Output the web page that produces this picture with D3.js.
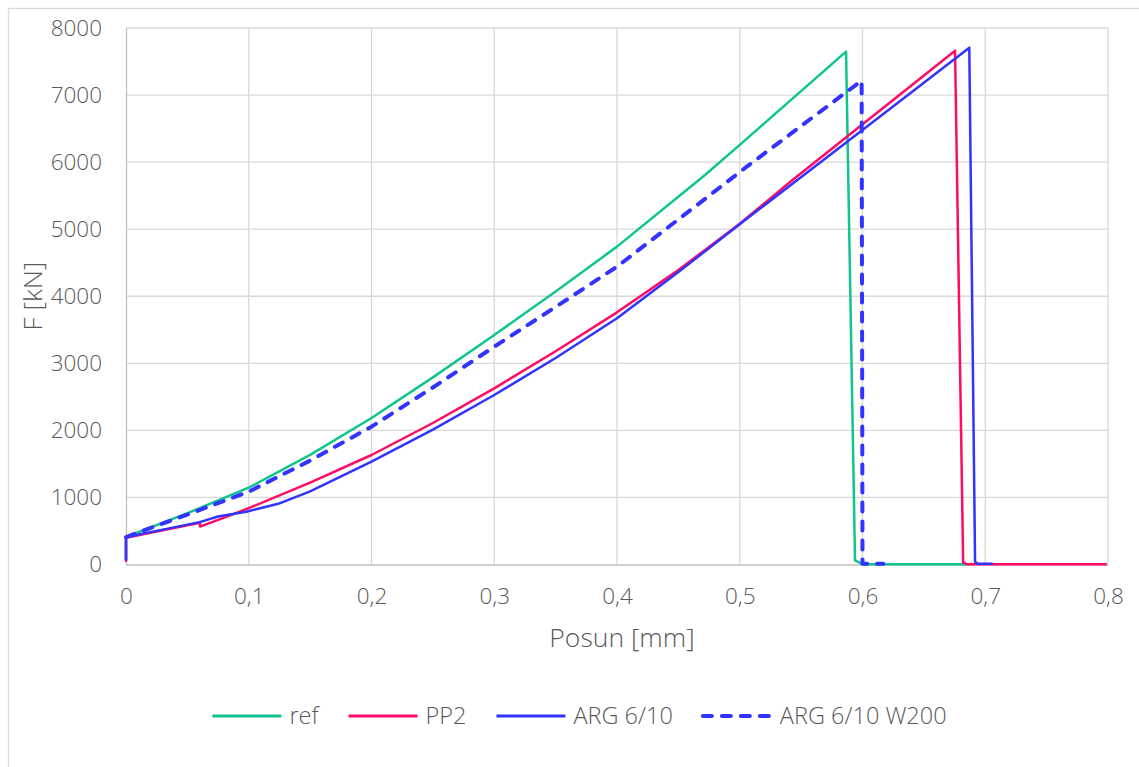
<!DOCTYPE html>
<meta charset="utf-8">
<style>
  body { margin: 0; background: #fff; }
  svg text { font-family: "Open Sans", sans-serif; font-weight: 300; fill: #595959; }
  .grid line { stroke: #d9d9d9; stroke-width: 1.3px; }
  .axis path, .axis line { stroke: #bfbfbf; stroke-width: 1.3px; }
  .series { fill: none; stroke-linejoin: round; }
</style>
<body>
<script src="https://cdn.jsdelivr.net/npm/d3@7"></script>
<script>

  // series: [posun mm, F kN]
  var refData = [[0,60],[0,410],[0.05,765],[0.1,1145],[0.15,1635],[0.2,2185],[0.25,2790],
    [0.3,3422],[0.35,4070],[0.4,4740],[0.4717,5808],[0.5,6258],[0.5866,7647],
    [0.5939,60],[0.6,5],[0.688,5]];
  var pp2Data = [[0,40],[0,400],[0.03,510],[0.0603,623],[0.0603,565],[0.08,700],[0.1,840],
    [0.15,1220],[0.2,1633],[0.25,2110],[0.3,2627],[0.35,3180],[0.4,3760],[0.45,4390],
    [0.5,5080],[0.543,5733],[0.6754,7662],[0.682,30],[0.685,5],[0.799,5]];
  var argData = [[0,60],[0,410],[0.03,520],[0.06,632],[0.075,715],[0.098,787],[0.124,905],
    [0.15,1090],[0.2,1533],[0.25,2010],[0.3,2528],[0.35,3080],[0.4,3671],[0.45,4360],
    [0.5,5075],[0.6,6480],[0.687,7707],[0.6917,40],[0.694,10],[0.706,10]];
  var argW200Data = [[0,410],[0.05,745],[0.1,1086],[0.15,1550],[0.2,2055],[0.25,2640],
    [0.3,3248],[0.35,3840],[0.4,4441],[0.45,5146],[0.5057,5932],
    [0.5993,7215],[0.6,10],[0.617,10]];

  var seriesNames = ["ref", "PP2", "ARG 6/10", "ARG 6/10 W200"];
  var seriesData = [refData, pp2Data, argData, argW200Data];
  var seriesColors = ["#0fc48f", "#ff0a64", "#3333ff", "#3333ff"];

  var xTicks = [0,0.1,0.2,0.3,0.4,0.5,0.6,0.7,0.8];
  var xTickLabels = ["0","0,1","0,2","0,3","0,4","0,5","0,6","0,7","0,8"];
  var yTicks = [0,1000,2000,3000,4000,5000,6000,7000,8000];

  var W = 1139, H = 767;
  var svg = d3.select("body").append("svg").attr("width", W).attr("height", H);

  svg.append("rect").attr("x", 8.5).attr("y", 8.5).attr("width", 1160).attr("height", 800)
     .attr("fill", "#fff").attr("stroke", "#d9d9d9").attr("stroke-width", 1.3);

  var x = d3.scaleLinear().domain([0, 0.8]).range([126, 1108]);
  var y = d3.scaleLinear().domain([0, 8000]).range([564.5, 28]);

  // grid
  var grid = svg.append("g").attr("class", "grid");
  grid.selectAll(".gx").data(xTicks.slice(1)).enter().append("line")
      .attr("x1", d => x(d)).attr("x2", d => x(d)).attr("y1", y(8000)).attr("y2", y(0));
  grid.selectAll(".gy").data(yTicks.slice(1)).enter().append("line")
      .attr("y1", d => y(d)).attr("y2", d => y(d)).attr("x1", x(0)).attr("x2", x(0.8));

  // axes
  var xAxis = svg.append("g").attr("class", "axis").attr("transform", "translate(0," + y(0) + ")")
      .call(d3.axisBottom(x).tickValues(xTicks).tickSize(0).tickPadding(24)
            .tickFormat((d, i) => xTickLabels[i]));
  xAxis.selectAll("text").style("font-size", "22.5px");
  var yAxis = svg.append("g").attr("class", "axis").attr("transform", "translate(" + x(0) + ",0)")
      .call(d3.axisLeft(y).tickValues(yTicks).tickSize(0).tickPadding(24).tickFormat(d3.format("d")));
  yAxis.selectAll("text").style("font-size", "22.5px");
  svg.selectAll(".axis text").attr("fill", "#595959").style("font-family", null);

  svg.append("text").attr("x", 622).attr("y", 647).attr("text-anchor", "middle")
     .style("font-size", "26.5px").text("Posun [mm]");
  svg.append("text").attr("transform", "translate(42," + (y(4000)) + ") rotate(-90)")
     .attr("text-anchor", "middle").style("font-size", "26.5px").text("F [kN]");

  // lines
  var line = d3.line().x(d => x(d[0])).y(d => y(d[1]));
  seriesData.forEach(function(data, i) {
    var p = svg.append("path").attr("class", "series").datum(data).attr("d", line)
       .attr("stroke", seriesColors[i]);
    if (i == 3) p.attr("stroke-width", 4).attr("stroke-dasharray", "9,10").attr("stroke-linecap", "round");
    else p.attr("stroke-width", 2.5);
  });

  // legend
  var lg = svg.append("g");
  var cx = 0;
  seriesNames.forEach(function(name, i) {
    var it = lg.append("g").attr("transform", "translate(" + cx + ",0)");
    var l = it.append("line").attr("x1", 0).attr("x2", 69).attr("y1", 0).attr("y2", 0)
      .attr("stroke", seriesColors[i]);
    if (i == 3) l.attr("stroke-width", 4).attr("stroke-dasharray", "9,10").attr("stroke-linecap", "round");
    else l.attr("stroke-width", 3);
    var t = it.append("text").attr("x", 77).attr("y", 0).attr("dy", "0.35em")
      .style("font-size", "23.5px").text(name);
    cx += 77 + t.node().getComputedTextLength() + 30;
  });
  var lw = cx - 30;
  lg.attr("transform", "translate(" + (579.5 - lw / 2) + ",716)");

</script>
</body>
